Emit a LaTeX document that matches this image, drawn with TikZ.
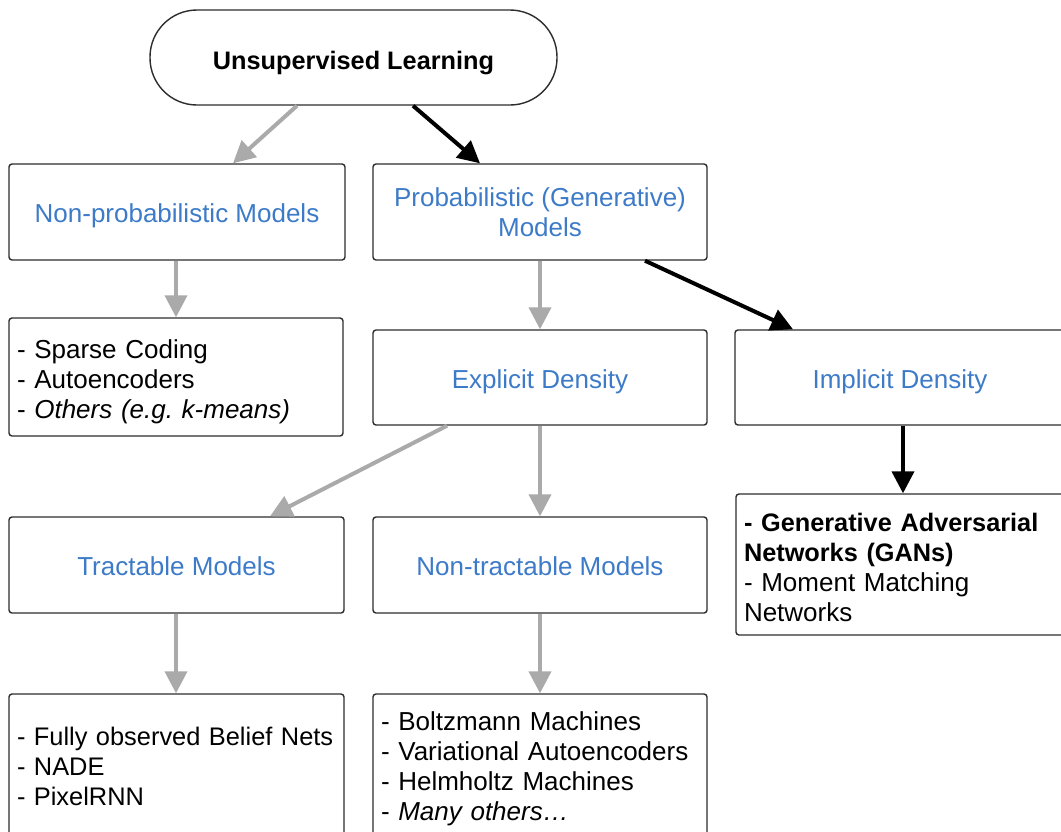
\documentclass[tikz,border=0pt]{standalone}
\usepackage{fontspec}
\setmainfont{Liberation Sans}
\usetikzlibrary{arrows.meta}
\definecolor{linkblue}{RGB}{61,123,200}
\definecolor{arrowgray}{RGB}{170,170,170}
\definecolor{frame}{RGB}{45,45,45}
\tikzset{
  box/.style={draw=frame, line width=1.4pt, rounded corners=3pt, inner sep=0pt,
    font=\fontsize{26}{30}\selectfont\frenchspacing},
  titlebox/.style={box, text=linkblue, align=center, text height=21pt, text depth=0pt},
  listbox/.style={box, align=left, inner xsep=8pt},
  grayarrow/.style={draw=arrowgray, line width=4pt,
    -{Triangle[length=22pt,width=22pt]}},
  blackarrow/.style={draw=black, line width=4pt,
    -{Triangle[length=22pt,width=22pt]}},
}
\newcommand{\boldtext}{\fontsize{25.3}{30}\selectfont\bfseries}
\begin{document}
\begin{tikzpicture}[x=1pt,y=-1pt]
\useasboundingbox (0,0) rectangle (1061,831);
\clip (0,0) rectangle (1061,831);
\fill[white] (0,0) rectangle (1061,831);

% root
\node[box, rounded corners=47pt, minimum width=407pt, minimum height=95pt,
      font=\boldtext, text height=24pt, text depth=0pt] (root) at (353.5,57.5)
  {Unsupervised Learning};

% second level
\node[titlebox, minimum width=336pt, minimum height=96pt] (np) at (177,212)
  {Non-probabilistic Models};
\node[titlebox, text height={}, text depth={}, minimum width=334pt,
      minimum height=96pt] (prob) at (540,212)
  {Probabilistic (Generative)\\Models};

% third level
\node[listbox, text width=318pt, minimum height=118pt,
      text height=23pt, text depth=60pt] (sparse) at (176,377)
  {- Sparse Coding\\- Autoencoders\\- \textit{Others (e.g. k-means)}};
\node[titlebox, minimum width=334pt, minimum height=95pt] (expl) at (540,377.5)
  {Explicit Density};
\node[titlebox, minimum width=330pt, minimum height=95pt] (impl) at (900,377.5)
  {Implicit Density};

% fourth level
\node[titlebox, minimum width=335pt, minimum height=96pt] (tract) at (176.5,565)
  {Tractable Models};
\node[titlebox, minimum width=334pt, minimum height=96pt] (ntract) at (540,565)
  {Non-tractable Models};
\node[listbox, text width=313pt, minimum height=141pt,
      text height=24pt, text depth=90pt] (gan) at (900.5,564.5)
  {{\boldtext - Generative Adversarial}\\{\boldtext Networks (GANs)}\\- Moment Matching\\Networks};

% bottom level
\node[listbox, text width=319pt, minimum height=142pt,
      font=\fontsize{25.4}{30}\selectfont,
      text height=20pt, text depth=60pt] (fobn) at (176.5,765)
  {\mbox{- Fully observed Belief Nets}\\- NADE\\- PixelRNN};
\node[listbox, text width=318pt, minimum height=142pt,
      text height=21pt, text depth=90pt] (boltz) at (540,765)
  {- Boltzmann Machines\\- Variational Autoencoders\\- Helmholtz Machines\\- \textit{Many others\dots}};

% connectors
\draw[grayarrow]  (297,0 |- root.south)  -- (233,0 |- np.north);
\draw[blackarrow] (413,0 |- root.south)  -- (480,0 |- prob.north);
\draw[grayarrow]  (176,0 |- np.south)    -- (176,0 |- sparse.north);
\draw[grayarrow]  (prob.south)           -- (expl.north);
\draw[blackarrow] (645,0 |- prob.south)  -- (793,0 |- impl.north);
\draw[blackarrow] (903,0 |- impl.south)  -- (903,0 |- gan.north);
\draw[grayarrow]  (447,0 |- expl.south)  -- (270,0 |- tract.north);
\draw[grayarrow]  (expl.south)           -- (ntract.north);
\draw[grayarrow]  (176,0 |- tract.south) -- (176,0 |- fobn.north);
\draw[grayarrow]  (ntract.south)         -- (boltz.north);
\end{tikzpicture}
\end{document}
